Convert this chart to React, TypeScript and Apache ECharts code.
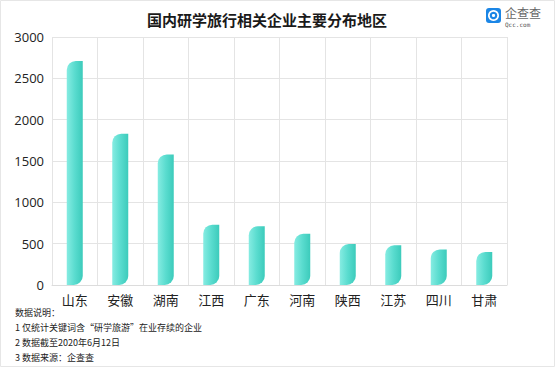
import React, { useEffect, useRef } from "react";
import * as echarts from "echarts";

const categories = ["山东", "安徽", "湖南", "江西", "广东", "河南", "陕西", "江苏", "四川", "甘肃"];
const values = [2710, 1830, 1580, 730, 710, 620, 495, 480, 430, 400];
const yTicks = { min: 0, max: 3000, interval: 500 };
const titleText = "国内研学旅行相关企业主要分布地区";
const notes = [
  "数据说明：",
  "1 仅统计关键词含“研学旅游”在业存续的企业",
  "2 数据截至2020年6月12日",
  "3 数据来源：企查查",
];

export default function App() {
  const ref = useRef<HTMLDivElement>(null);
  useEffect(() => {
    document.body.style.margin = "0";
    const chart = echarts.init(ref.current!, undefined, { renderer: "svg" });
    const font = '"Noto Sans CJK SC", "Noto Sans", sans-serif';
    chart.setOption({
      animation: false,
      backgroundColor: "#ffffff",
      title: {
        text: titleText,
        left: 262,
        textAlign: "center",
        top: 7,
        textStyle: { fontFamily: font, fontSize: 15, fontWeight: "bold", color: "#1a1a1a" },
      },
      grid: { left: 52, right: 49, top: 37, bottom: 83 },
      xAxis: {
        type: "category",
        data: categories,
        boundaryGap: true,
        axisLine: { show: true, lineStyle: { color: "#dcdcdc" } },
        axisTick: { show: false },
        axisLabel: { color: "#222", fontFamily: font, fontSize: 13, margin: 8 },
        splitLine: { show: true, lineStyle: { color: "#e4e4e4" } },
      },
      yAxis: {
        type: "value",
        min: yTicks.min,
        max: yTicks.max,
        interval: yTicks.interval,
        axisLine: { show: false },
        axisTick: { show: false },
        axisLabel: {
          color: "#222",
          fontFamily: '"Open Sans", sans-serif',
          fontSize: 13,
          margin: 8,
          formatter: (v: number) => String(v),
        },
        splitLine: { show: true, lineStyle: { color: "#e4e4e4" } },
      },
      series: [
        {
          type: "bar",
          data: values,
          barWidth: 16,
          itemStyle: {
            borderRadius: [9, 0, 9, 0],
            color: new echarts.graphic.LinearGradient(0, 0, 1, 0, [
              { offset: 0, color: "#86ece2" },
              { offset: 0.5, color: "#5adccf" },
              { offset: 1, color: "#3ccbbb" },
            ]),
          },
        },
      ],
      graphic: [
        {
          type: "rect",
          shape: { x: 0.5, y: 0.5, width: 554, height: 366 },
          style: { fill: "none", stroke: "#e6e6e6", lineWidth: 1 },
          silent: true,
        },
        {
          type: "rect",
          shape: { x: 486, y: 8, width: 15, height: 15, r: 3 },
          style: { fill: "#1b86e6" },
        },
        {
          type: "ring",
          shape: { cx: 493.5, cy: 15.5, r: 5.5, r0: 3.8 },
          style: { fill: "#ffffff" },
        },
        {
          type: "circle",
          shape: { cx: 493.5, cy: 15.5, r: 1.6 },
          style: { fill: "#ffffff" },
        },
        {
          type: "text",
          x: 505,
          y: 6,
          style: { text: "企查查", fontFamily: font, fontSize: 12, fill: "#666" },
        },
        {
          type: "text",
          x: 505,
          y: 21,
          style: { text: "Qcc.com", fontFamily: "DejaVu Sans Mono, monospace", fontSize: 6, fill: "#555" },
        },
        ...notes.map((t, i) => ({
          type: "text",
          x: 15,
          y: 308 + i * 15,
          style: { text: t, fontFamily: font, fontSize: 9, fill: "#222" },
        })),
      ],
    });
    return () => chart.dispose();
  }, []);
  return <div ref={ref} style={{ width: 556, height: 368 }} />;
}
